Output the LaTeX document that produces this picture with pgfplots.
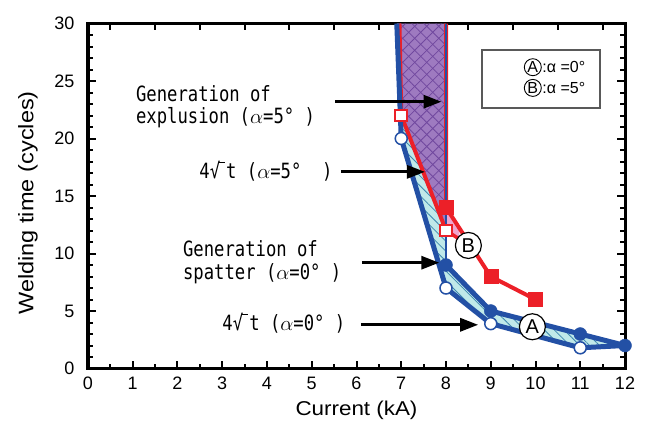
\documentclass[border=0pt]{standalone}
\usepackage{fontspec}
\setmainfont{Liberation Sans}
\newfontfamily\monofont{DejaVu Sans Mono}[FakeStretch=0.82]
\newfontfamily\labfont{Liberation Sans}[FakeStretch=1.12]
\usepackage{pgfplots}
\pgfplotsset{compat=1.18}
\usetikzlibrary{patterns.meta,arrows.meta}
\definecolor{bl}{RGB}{35,80,165}
\definecolor{rd}{RGB}{236,32,40}
\definecolor{cy}{RGB}{192,233,233}
\definecolor{cyl}{RGB}{60,135,175}
\definecolor{pu}{RGB}{158,122,192}
\definecolor{pul}{RGB}{112,72,158}
\definecolor{pk}{RGB}{240,165,205}
\newcommand{\annfont}{\monofont\fontsize{21}{23}\selectfont}
\newcommand{\srt}{4√\kern-0.08em\rule[0.745em]{0.32em}{0.065em}\kern0.05em t}
\begin{document}
\begin{tikzpicture}
\useasboundingbox (-88pt,-60.5pt) rectangle (557pt,368.5pt);
% top ticks at half units
\begin{axis}[at={(0,0)}, anchor=south west, scale only axis, width=537pt, height=345pt,
  xmin=0, xmax=12, ymin=0, ymax=30,
  xtick={0.5,1.5,...,11.5}, xticklabels={}, xtick pos=right, ytick=\empty,
  tick align=inside, major tick length=6pt,
  major tick style={line width=2pt, black},
  axis line style={line width=3pt}]
\end{axis}
\begin{axis}[at={(0,0)}, anchor=south west, scale only axis, width=537pt, height=345pt,
  xmin=0, xmax=12, ymin=0, ymax=30,
  xtick={0,...,12}, minor x tick num=1, xtick pos=left,
  ytick={0,5,...,30}, minor y tick num=4,
  tick align=inside, major tick length=8pt, minor tick length=5pt,
  major tick style={line width=2pt, black},
  minor tick style={line width=2pt, black},
  axis line style={line width=3pt},
  /pgf/number format/assume math mode=true,
  tick label style={font=\fontsize{18}{20}\selectfont},
  xticklabel style={yshift=-5pt},
  yticklabel style={xshift=-10pt},
  xlabel={Current (kA)}, ylabel={Welding time\,\,(cycles)},
  xlabel style={at={(axis description cs:0.5,-0.12)}, anchor=center, font=\labfont\fontsize{20}{22}\selectfont},
  ylabel style={at={(axis description cs:-0.112,0.48)}, anchor=center, font=\labfont\fontsize{21}{23}\selectfont},
  clip=false]
% cyan hatched region
\addplot[draw=none, fill=cy, postaction={pattern={Lines[angle=-45,distance=7pt,line width=0.8pt]}, pattern color=cyl}]
  coordinates {(6.9,30) (7,20) (8,7) (9,3.9) (11,1.8) (12,2) (11,3) (9,5) (8,9) (8,12) (7,22) (6.96,30)} -- cycle;
% purple crosshatch region
\addplot[draw=none, fill=pu,
  postaction={pattern={Lines[angle=45,distance=8.5pt,line width=0.8pt]}, pattern color=pul},
  postaction={pattern={Lines[angle=-45,distance=8.5pt,line width=0.8pt]}, pattern color=pul}]
  coordinates {(6.96,30) (7,22) (8,12) (8,30)} -- cycle;
% pink region
\addplot[draw=none, fill=pk] coordinates {(8,14) (8,12) (8.3,11.4) (8.3,12.2)} -- cycle;
% red lines
\addplot[rd, line width=4pt, line join=round] coordinates {(6.96,30) (7,22) (8,12)};
\addplot[rd, line width=3.5pt] coordinates {(8,12) (8.4,11)};
\addplot[rd, line width=4pt, line join=round] coordinates {(8,30) (8,14) (9,8) (10,6)};
\addplot[only marks, mark=square*, mark size=7pt, color=rd] coordinates {(8,14) (9,8) (10,6)};
\addplot[only marks, mark=square*, mark size=5.8pt, mark options={fill=white, draw=rd, line width=2pt}] coordinates {(7,22) (8,12)};
% blue lines
\addplot[bl, line width=5pt, line join=round] coordinates {(6.9,30) (7,20) (8,7) (9,3.9) (11,1.8) (12,2)};
\addplot[bl, line width=5pt, line join=round] coordinates {(8,9) (9,5) (11,3) (12,2)};
\addplot[bl, line width=1.5pt] coordinates {(8,30) (8,9)};
\addplot[only marks, mark=*, mark size=6.5pt, color=bl] coordinates {(8,9) (9,5) (11,3) (12,2)};
\addplot[only marks, mark=*, mark size=6pt, mark options={fill=white, draw=bl, line width=1.5pt}] coordinates {(7,20) (8,7) (9,3.9) (11,1.8)};
% circled labels
\node[circle, draw=black, line width=1.2pt, fill=white, minimum size=26pt, inner sep=0pt, font=\fontsize{20}{20}\selectfont] at (axis cs:8.5,10.7) {B};
\node[circle, draw=black, line width=1.2pt, fill=white, minimum size=26pt, inner sep=0pt, font=\fontsize{20}{20}\selectfont] at (axis cs:9.93,3.63) {A};
% annotations
\node[anchor=base west, inner sep=0pt, font=\annfont] at (axis cs:1.07,23.25) {Generation of};
\node[anchor=base west, inner sep=0pt, font=\annfont] at (axis cs:1.07,21.3) {explusion ($\alpha$=5°\ )};
\draw[-{Triangle[length=18pt,width=13pt]}, line width=3pt] (axis cs:5.52,23.2) -- (axis cs:7.9,23.2);
\node[anchor=base east, inner sep=0pt, font=\annfont] at (axis cs:5.47,16.5) {\srt\ ($\alpha$=5°\ \ )};
\draw[-{Triangle[length=18pt,width=13pt]}, line width=3pt] (axis cs:5.65,17.1) -- (axis cs:7.53,17.1);
\node[anchor=base west, inner sep=0pt, font=\annfont] at (axis cs:2.12,9.7) {Generation of};
\node[anchor=base west, inner sep=0pt, font=\annfont] at (axis cs:2.12,7.75) {spatter ($\alpha$=0°\ )};
\draw[-{Triangle[length=18pt,width=13pt]}, line width=3pt] (axis cs:6.12,9.2) -- (axis cs:7.85,9.2);
\node[anchor=base west, inner sep=0pt, font=\annfont] at (axis cs:3.0,3.3) {\srt\ ($\alpha$=0°\ )};
\draw[-{Triangle[length=18pt,width=13pt]}, line width=3pt] (axis cs:6.1,3.8) -- (axis cs:8.72,3.8);
% legend box
\draw[draw=black!65, line width=1.5pt, fill=white] (axis cs:8.8,22.65) rectangle (axis cs:11.44,27.7);
\node[circle, draw=black, line width=0.9pt, minimum size=17pt, inner sep=0pt, font=\fontsize{16}{16}\selectfont] at (axis cs:9.94,26.2) {A};
\node[anchor=west, inner sep=0pt, font=\fontsize{16}{18}\selectfont] at (axis cs:10.15,26.2) {:α =0°};
\node[circle, draw=black, line width=0.9pt, minimum size=17pt, inner sep=0pt, font=\fontsize{16}{16}\selectfont] at (axis cs:9.94,24.4) {B};
\node[anchor=west, inner sep=0pt, font=\fontsize{16}{18}\selectfont] at (axis cs:10.15,24.4) {:α =5°};
\end{axis}
\end{tikzpicture}
\end{document}
